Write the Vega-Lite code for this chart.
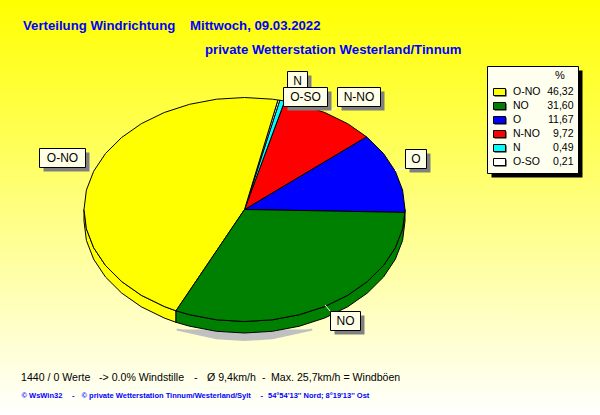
{
  "$schema": "https://vega.github.io/schema/vega-lite/v6.json",
  "width": 600,
  "height": 415,
  "autosize": {"type": "fit", "contains": "padding"},
  "padding": 0,
  "view": {"stroke": null, "fill": {"gradient": "linear", "x1": 0, "y1": 0, "x2": 0, "y2": 1, "stops": [{"offset": 0, "color": "#ffff00"}, {"offset": 1, "color": "#ffffff"}]}},
  "datasets": {
    "schatten": [
      {"i": 0, "x": 176.7, "y": 329.5}, {"i": 1, "x": 216.6, "y": 338.3}, {"i": 2, "x": 244.5, "y": 340}, {"i": 3, "x": 272.4, "y": 338.3}, {"i": 4, "x": 312.3, "y": 329.5}
    ],
    "torte": [
      {"slice": "O-NO", "part": "wand", "i": 0, "x": 84, "y": 209.5}, {"slice": "O-NO", "part": "wand", "i": 1, "x": 86.4, "y": 228.9}, {"slice": "O-NO", "part": "wand", "i": 2, "x": 93.7, "y": 247.8}, {"slice": "O-NO", "part": "wand", "i": 3, "x": 105.5, "y": 265.5}, {"slice": "O-NO", "part": "wand", "i": 4, "x": 121.6, "y": 281.5}, {"slice": "O-NO", "part": "wand", "i": 5, "x": 141.3, "y": 295.3}, {"slice": "O-NO", "part": "wand", "i": 6, "x": 164.25, "y": 306.5}, {"slice": "O-NO", "part": "wand", "i": 7, "x": 176, "y": 310.8},
      {"slice": "O-NO", "part": "wand", "i": 8, "x": 176, "y": 322.3}, {"slice": "O-NO", "part": "wand", "i": 9, "x": 164.25, "y": 318}, {"slice": "O-NO", "part": "wand", "i": 10, "x": 141.3, "y": 306.8}, {"slice": "O-NO", "part": "wand", "i": 11, "x": 121.6, "y": 293}, {"slice": "O-NO", "part": "wand", "i": 12, "x": 105.5, "y": 277}, {"slice": "O-NO", "part": "wand", "i": 13, "x": 93.7, "y": 259.3}, {"slice": "O-NO", "part": "wand", "i": 14, "x": 86.4, "y": 240.4}, {"slice": "O-NO", "part": "wand", "i": 15, "x": 84, "y": 221}, {"slice": "O-NO", "part": "wand", "i": 16, "x": 84, "y": 209.5},

      {"slice": "NO", "part": "wand", "i": 0, "x": 176, "y": 310.8}, {"slice": "NO", "part": "wand", "i": 1, "x": 189.6, "y": 314.7}, {"slice": "NO", "part": "wand", "i": 2, "x": 216.6, "y": 319.8}, {"slice": "NO", "part": "wand", "i": 3, "x": 244.5, "y": 321.5}, {"slice": "NO", "part": "wand", "i": 4, "x": 272.4, "y": 319.8}, {"slice": "NO", "part": "wand", "i": 5, "x": 299.4, "y": 314.7}, {"slice": "NO", "part": "wand", "i": 6, "x": 324.75, "y": 306.5}, {"slice": "NO", "part": "wand", "i": 7, "x": 347.7, "y": 295.3}, {"slice": "NO", "part": "wand", "i": 8, "x": 367.4, "y": 281.5}, {"slice": "NO", "part": "wand", "i": 9, "x": 383.5, "y": 265.5}, {"slice": "NO", "part": "wand", "i": 10, "x": 395.3, "y": 247.8}, {"slice": "NO", "part": "wand", "i": 11, "x": 402.6, "y": 228.9}, {"slice": "NO", "part": "wand", "i": 12, "x": 405, "y": 209.5},
      {"slice": "NO", "part": "wand", "i": 13, "x": 405, "y": 221}, {"slice": "NO", "part": "wand", "i": 14, "x": 402.6, "y": 240.4}, {"slice": "NO", "part": "wand", "i": 15, "x": 395.3, "y": 259.3}, {"slice": "NO", "part": "wand", "i": 16, "x": 383.5, "y": 277}, {"slice": "NO", "part": "wand", "i": 17, "x": 367.4, "y": 293}, {"slice": "NO", "part": "wand", "i": 18, "x": 347.7, "y": 306.8}, {"slice": "NO", "part": "wand", "i": 19, "x": 324.75, "y": 318}, {"slice": "NO", "part": "wand", "i": 20, "x": 299.4, "y": 326.2}, {"slice": "NO", "part": "wand", "i": 21, "x": 272.4, "y": 331.3}, {"slice": "NO", "part": "wand", "i": 22, "x": 244.5, "y": 333}, {"slice": "NO", "part": "wand", "i": 23, "x": 216.6, "y": 331.3}, {"slice": "NO", "part": "wand", "i": 24, "x": 189.6, "y": 326.2}, {"slice": "NO", "part": "wand", "i": 25, "x": 176, "y": 322.3}, {"slice": "NO", "part": "wand", "i": 26, "x": 176, "y": 310.8},

      {"slice": "O", "part": "top", "i": 0, "x": 244.5, "y": 209.5}, {"slice": "O", "part": "top", "i": 1, "x": 404.9, "y": 212.4}, {"slice": "O", "part": "top", "i": 2, "x": 405, "y": 209.5}, {"slice": "O", "part": "top", "i": 3, "x": 402.6, "y": 190.1}, {"slice": "O", "part": "top", "i": 4, "x": 395.3, "y": 171.2}, {"slice": "O", "part": "top", "i": 5, "x": 383.5, "y": 153.5}, {"slice": "O", "part": "top", "i": 6, "x": 367.4, "y": 137.5}, {"slice": "O", "part": "top", "i": 7, "x": 366.5, "y": 136.8}, {"slice": "O", "part": "top", "i": 8, "x": 244.5, "y": 209.5},

      {"slice": "N-NO", "part": "top", "i": 0, "x": 244.5, "y": 209.5}, {"slice": "N-NO", "part": "top", "i": 1, "x": 366.5, "y": 136.8}, {"slice": "N-NO", "part": "top", "i": 2, "x": 347.7, "y": 123.7}, {"slice": "N-NO", "part": "top", "i": 3, "x": 324.75, "y": 112.5}, {"slice": "N-NO", "part": "top", "i": 4, "x": 299.4, "y": 104.3}, {"slice": "N-NO", "part": "top", "i": 5, "x": 284.7, "y": 101.1}, {"slice": "N-NO", "part": "top", "i": 6, "x": 244.5, "y": 209.5},

      {"slice": "N", "part": "top", "i": 0, "x": 244.5, "y": 209.5}, {"slice": "N", "part": "top", "i": 1, "x": 284.7, "y": 101.1}, {"slice": "N", "part": "top", "i": 2, "x": 279.8, "y": 100.2}, {"slice": "N", "part": "top", "i": 3, "x": 244.5, "y": 209.5},

      {"slice": "O-SO", "part": "top", "i": 0, "x": 244.5, "y": 209.5}, {"slice": "O-SO", "part": "top", "i": 1, "x": 279.8, "y": 100.2}, {"slice": "O-SO", "part": "top", "i": 2, "x": 277.9, "y": 100}, {"slice": "O-SO", "part": "top", "i": 3, "x": 244.5, "y": 209.5},

      {"slice": "O-NO", "part": "top", "i": 0, "x": 244.5, "y": 209.5}, {"slice": "O-NO", "part": "top", "i": 1, "x": 277.9, "y": 100}, {"slice": "O-NO", "part": "top", "i": 2, "x": 272.4, "y": 99.2}, {"slice": "O-NO", "part": "top", "i": 3, "x": 244.5, "y": 97.5}, {"slice": "O-NO", "part": "top", "i": 4, "x": 216.6, "y": 99.2}, {"slice": "O-NO", "part": "top", "i": 5, "x": 189.6, "y": 104.3}, {"slice": "O-NO", "part": "top", "i": 6, "x": 164.25, "y": 112.5}, {"slice": "O-NO", "part": "top", "i": 7, "x": 141.3, "y": 123.7}, {"slice": "O-NO", "part": "top", "i": 8, "x": 121.6, "y": 137.5}, {"slice": "O-NO", "part": "top", "i": 9, "x": 105.5, "y": 153.5}, {"slice": "O-NO", "part": "top", "i": 10, "x": 93.7, "y": 171.2}, {"slice": "O-NO", "part": "top", "i": 11, "x": 86.4, "y": 190.1}, {"slice": "O-NO", "part": "top", "i": 12, "x": 84, "y": 209.5}, {"slice": "O-NO", "part": "top", "i": 13, "x": 86.4, "y": 228.9}, {"slice": "O-NO", "part": "top", "i": 14, "x": 93.7, "y": 247.8}, {"slice": "O-NO", "part": "top", "i": 15, "x": 105.5, "y": 265.5}, {"slice": "O-NO", "part": "top", "i": 16, "x": 121.6, "y": 281.5}, {"slice": "O-NO", "part": "top", "i": 17, "x": 141.3, "y": 295.3}, {"slice": "O-NO", "part": "top", "i": 18, "x": 164.25, "y": 306.5}, {"slice": "O-NO", "part": "top", "i": 19, "x": 176, "y": 310.8}, {"slice": "O-NO", "part": "top", "i": 20, "x": 244.5, "y": 209.5},

      {"slice": "NO", "part": "top", "i": 0, "x": 244.5, "y": 209.5}, {"slice": "NO", "part": "top", "i": 1, "x": 176, "y": 310.8}, {"slice": "NO", "part": "top", "i": 2, "x": 189.6, "y": 314.7}, {"slice": "NO", "part": "top", "i": 3, "x": 216.6, "y": 319.8}, {"slice": "NO", "part": "top", "i": 4, "x": 244.5, "y": 321.5}, {"slice": "NO", "part": "top", "i": 5, "x": 272.4, "y": 319.8}, {"slice": "NO", "part": "top", "i": 6, "x": 299.4, "y": 314.7}, {"slice": "NO", "part": "top", "i": 7, "x": 324.75, "y": 306.5}, {"slice": "NO", "part": "top", "i": 8, "x": 347.7, "y": 295.3}, {"slice": "NO", "part": "top", "i": 9, "x": 367.4, "y": 281.5}, {"slice": "NO", "part": "top", "i": 10, "x": 383.5, "y": 265.5}, {"slice": "NO", "part": "top", "i": 11, "x": 395.3, "y": 247.8}, {"slice": "NO", "part": "top", "i": 12, "x": 402.6, "y": 228.9}, {"slice": "NO", "part": "top", "i": 13, "x": 404.9, "y": 212.4}, {"slice": "NO", "part": "top", "i": 14, "x": 244.5, "y": 209.5}
    ],
    "fahnen": [
      {"label": "N", "x": 287.5, "x2": 307.5, "y": 71.5, "y2": 90, "cx": 297.5, "cy": 81},
      {"label": "O-SO", "x": 283.5, "x2": 327.5, "y": 87.5, "y2": 106.5, "cx": 305.5, "cy": 97},
      {"label": "N-NO", "x": 337.5, "x2": 380.5, "y": 87.5, "y2": 106.5, "cx": 359, "cy": 97},
      {"label": "O", "x": 405.5, "x2": 426.5, "y": 149.5, "y2": 168.5, "cx": 416, "cy": 159},
      {"label": "O-NO", "x": 39.5, "x2": 85.5, "y": 148.5, "y2": 167.5, "cx": 62.5, "cy": 158},
      {"label": "NO", "x": 330.5, "x2": 360.5, "y": 311.5, "y2": 330.5, "cx": 345.5, "cy": 321}
    ],
    "linien": [
      {"x": 328, "x2": 338, "y": 112, "y2": 106.5},
      {"x": 395, "x2": 405.5, "y": 170.7, "y2": 168},
      {"x": 325, "x2": 330.5, "y": 305, "y2": 311.5},
      {"x": 86, "x2": 93, "y": 167.5, "y2": 170}
    ],
    "legende": [
      {"name": "O-NO", "pct": "46,32", "y": 92, "sx": 499.5, "nx": 513, "px": 573.5},
      {"name": "NO", "pct": "31,60", "y": 106, "sx": 499.5, "nx": 513, "px": 573.5},
      {"name": "O", "pct": "11,67", "y": 120, "sx": 499.5, "nx": 513, "px": 573.5},
      {"name": "N-NO", "pct": "9,72", "y": 134, "sx": 499.5, "nx": 513, "px": 573.5},
      {"name": "N", "pct": "0,49", "y": 148, "sx": 499.5, "nx": 513, "px": 573.5},
      {"name": "O-SO", "pct": "0,21", "y": 162, "sx": 499.5, "nx": 513, "px": 573.5}
    ]
  },
  "data": {"name": "torte"},
  "encoding": {
    "x": {"field": "x", "type": "quantitative", "scale": {"domain": [0, 600], "nice": false, "zero": false}, "axis": null},
    "y": {"field": "y", "type": "quantitative", "scale": {"domain": [415, 0], "nice": false, "zero": false}, "axis": null}
  },
  "layer": [
    {
      "data": {"name": "schatten"},
      "mark": {"type": "line", "fill": "#c0c0c0", "stroke": "#c0c0c0"},
      "encoding": {"order": {"field": "i"}}
    },
    {
      "mark": {"type": "line", "stroke": "black", "strokeWidth": 1},
      "encoding": {
        "detail": {"field": "part"},
        "order": {"field": "i"},
        "fill": {
          "field": "slice",
          "scale": {"domain": ["O-NO", "NO", "O", "N-NO", "N", "O-SO"], "range": ["#ffff00", "#008000", "#0000ff", "#ff0000", "#00ffff", "#ffffff"]},
          "legend": null
        }
      }
    },
    {
      "data": {"name": "linien"},
      "mark": {"type": "rule", "color": "white", "strokeWidth": 1},
      "encoding": {"x2": {"field": "x2"}, "y2": {"field": "y2"}}
    },
    {
      "data": {"name": "fahnen"},
      "mark": {"type": "rect", "fill": "#808080", "xOffset": 4, "x2Offset": 4, "yOffset": 4, "y2Offset": 4},
      "encoding": {"x2": {"field": "x2"}, "y2": {"field": "y2"}}
    },
    {
      "data": {"name": "fahnen"},
      "mark": {"type": "rect", "fill": "#ffffe8", "stroke": "black", "strokeWidth": 1},
      "encoding": {"x2": {"field": "x2"}, "y2": {"field": "y2"}}
    },
    {
      "data": {"name": "fahnen"},
      "mark": {"type": "text", "font": "Liberation Sans", "fontSize": 12, "color": "black", "align": "center", "baseline": "middle"},
      "encoding": {
        "x": {"field": "cx", "type": "quantitative"},
        "y": {"field": "cy", "type": "quantitative"},
        "text": {"field": "label"}
      }
    },
    {
      "data": {"values": [{"x": 487.5, "x2": 578.5, "y": 66.5, "y2": 173.5}]},
      "mark": {"type": "rect", "fill": "black", "xOffset": 4, "x2Offset": 4, "yOffset": 4, "y2Offset": 4},
      "encoding": {"x2": {"field": "x2"}, "y2": {"field": "y2"}}
    },
    {
      "data": {"values": [{"x": 487.5, "x2": 578.5, "y": 66.5, "y2": 173.5}]},
      "mark": {"type": "rect", "fill": "#fffff0", "stroke": "black", "strokeWidth": 1},
      "encoding": {"x2": {"field": "x2"}, "y2": {"field": "y2"}}
    },
    {
      "data": {"name": "legende"},
      "mark": {"type": "rect", "width": 12, "height": 7, "fill": "black", "xOffset": 1, "yOffset": 1},
      "encoding": {"x": {"field": "sx", "type": "quantitative"}}
    },
    {
      "data": {"name": "legende"},
      "mark": {"type": "rect", "width": 12, "height": 7, "stroke": "black", "strokeWidth": 1},
      "encoding": {
        "x": {"field": "sx", "type": "quantitative"},
        "fill": {"field": "name", "scale": {"domain": ["O-NO", "NO", "O", "N-NO", "N", "O-SO"], "range": ["#ffff00", "#008000", "#0000ff", "#ff0000", "#00ffff", "#ffffff"]}, "legend": null}
      }
    },
    {
      "data": {"name": "legende"},
      "mark": {"type": "text", "font": "Liberation Sans", "fontSize": 10.5, "color": "black", "align": "left", "baseline": "middle"},
      "encoding": {"x": {"field": "nx", "type": "quantitative"}, "text": {"field": "name"}}
    },
    {
      "data": {"name": "legende"},
      "mark": {"type": "text", "font": "Liberation Sans", "fontSize": 10.5, "color": "black", "align": "right", "baseline": "middle"},
      "encoding": {"x": {"field": "px", "type": "quantitative"}, "text": {"field": "pct"}}
    },
    {
      "data": {"values": [{"text": "%", "x": 560, "y": 76}]},
      "mark": {"type": "text", "font": "Liberation Sans", "fontSize": 11, "color": "black", "align": "center", "baseline": "middle"},
      "encoding": {"text": {"field": "text"}}
    },
    {
      "data": {"values": [
        {"text": "Verteilung Windrichtung", "x": 23, "y": 30},
        {"text": "Mittwoch, 09.03.2022", "x": 190, "y": 30},
        {"text": "private Wetterstation Westerland/Tinnum", "x": 205, "y": 54}
      ]},
      "mark": {"type": "text", "font": "Liberation Sans", "fontSize": 13.2, "fontWeight": "bold", "color": "#0000ff", "align": "left", "baseline": "alphabetic"},
      "encoding": {"text": {"field": "text"}}
    },
    {
      "data": {"values": [
        {"text": "1440 / 0 Werte", "x": 21, "y": 381},
        {"text": "-> 0.0% Windstille", "x": 99, "y": 381},
        {"text": "-", "x": 194, "y": 381},
        {"text": "Ø 9,4km/h", "x": 207, "y": 381},
        {"text": "-", "x": 262, "y": 381},
        {"text": "Max. 25,7km/h = Windböen", "x": 271, "y": 381}
      ]},
      "mark": {"type": "text", "font": "Liberation Sans", "fontSize": 10.6, "color": "black", "align": "left", "baseline": "alphabetic"},
      "encoding": {"text": {"field": "text"}}
    },
    {
      "data": {"values": [
        {"text": "© WsWin32", "x": 21.5, "y": 398},
        {"text": "-", "x": 72, "y": 398},
        {"text": "© private Wetterstation Tinnum/Westerland/Sylt", "x": 81.5, "y": 398},
        {"text": "-", "x": 260.5, "y": 398},
        {"text": "54°54'13'' Nord; 8°19'13'' Ost", "x": 268, "y": 398}
      ]},
      "mark": {"type": "text", "font": "Liberation Sans", "fontSize": 7.5, "fontWeight": "bold", "color": "#0000ff", "align": "left", "baseline": "alphabetic"},
      "encoding": {"text": {"field": "text"}}
    }
  ]
}
